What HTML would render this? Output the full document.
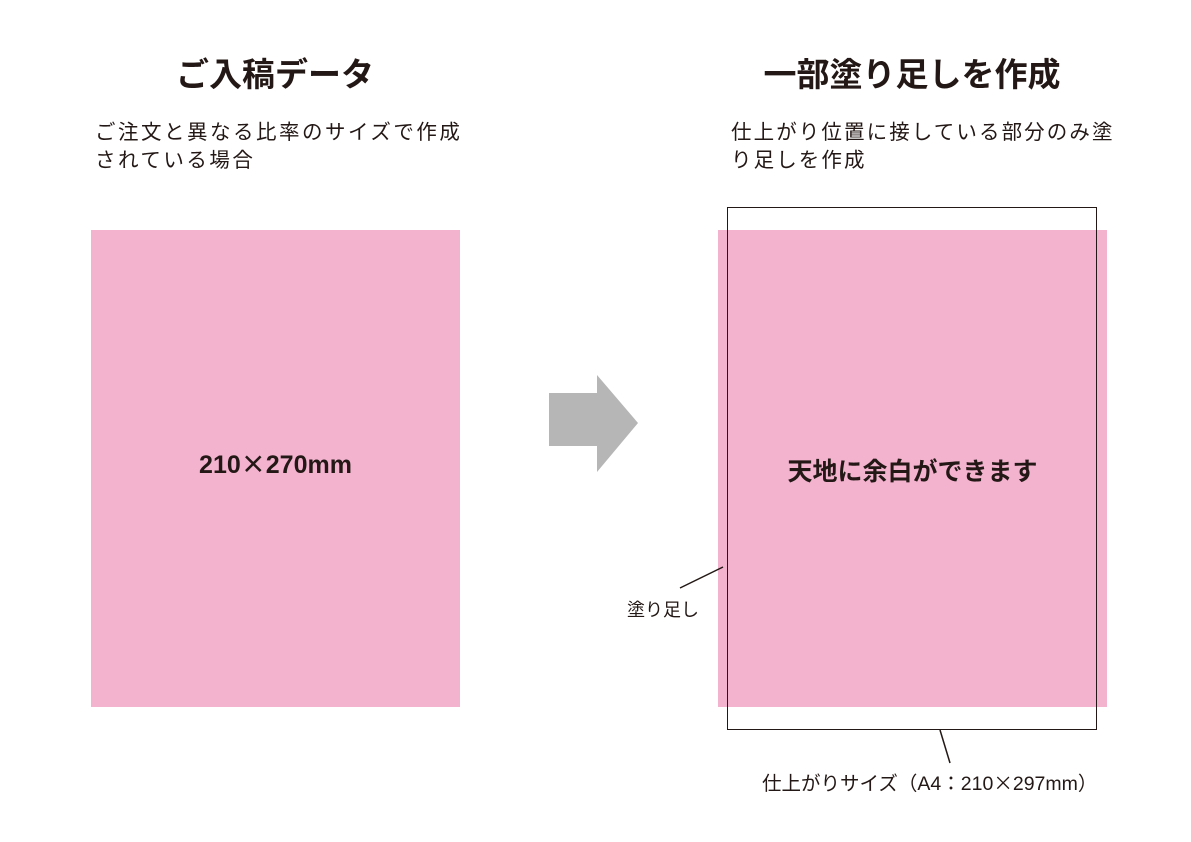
<!DOCTYPE html>
<html><head><meta charset="utf-8"><style>
body{margin:0;width:1191px;height:842px;background:#fff;position:relative;overflow:hidden;font-family:"Liberation Sans","Noto Sans CJK JP",sans-serif;color:#231815}
.a{position:absolute;white-space:nowrap;line-height:1}
.x{font-family:"Noto Sans CJK JP",sans-serif}
</style></head><body>
<div class="a" style="left:0;width:550px;top:58px;text-align:center;font-size:33px;font-weight:bold">ご入稿データ</div>
<div class="a" style="left:95px;top:119px;font-size:20.5px;letter-spacing:2.5px;line-height:28px">ご注文と異なる比率のサイズで作成<br>されている場合</div>
<div class="a" style="left:640px;width:544px;top:58px;text-align:center;font-size:33px;font-weight:bold">一部塗り足しを作成</div>
<div class="a" style="left:731px;top:119px;font-size:20.5px;letter-spacing:2.1px;line-height:28px">仕上がり位置に接している部分のみ塗<br>り足しを作成</div>
<div class="a" style="left:91px;top:230px;width:369px;height:477px;background:#f3b3cf"></div>
<div class="a" style="left:91px;width:369px;top:451px;text-align:center;font-size:25px;font-weight:bold">210<span class="x">×</span>270mm</div>
<div class="a" style="left:718px;top:230px;width:389px;height:477px;background:#f3b3cf"></div>
<div class="a" style="left:727px;top:207px;width:368px;height:521px;border:1.6px solid #231815"></div>
<div class="a" style="left:718px;width:389px;top:460px;text-align:center;font-size:25px;font-weight:bold">天地に余白ができます</div>
<svg class="a" style="left:0;top:0" width="1191" height="842">
<polygon points="549,393 597,393 597,375 638,423 597,472 597,446 549,446" fill="#b5b6b5"/>
<line x1="680" y1="588" x2="723" y2="567" stroke="#231815" stroke-width="1.5"/>
<line x1="940" y1="730" x2="950" y2="763" stroke="#231815" stroke-width="1.5"/>
</svg>
<div class="a" style="left:627px;top:601px;font-size:18px">塗り足し</div>
<div class="a" style="left:762px;top:772px;font-size:19.5px">仕上がりサイズ（A4<span class="x">：</span>210<span class="x">×</span>297mm）</div>
</body></html>
